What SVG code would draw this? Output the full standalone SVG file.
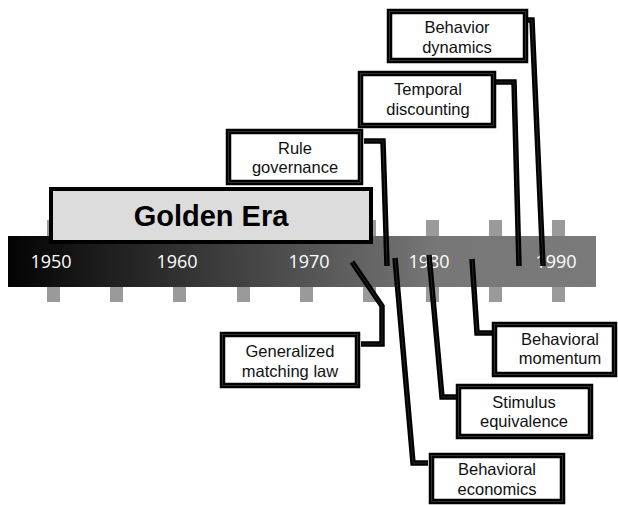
<svg xmlns="http://www.w3.org/2000/svg" width="618" height="505" viewBox="0 0 618 505">
<defs>
<linearGradient id="barGrad" gradientUnits="userSpaceOnUse" x1="8" y1="0" x2="596" y2="0">
<stop offset="0" stop-color="#030303"/>
<stop offset="0.73" stop-color="#777777"/>
<stop offset="1" stop-color="#7a7a7a"/>
</linearGradient>
<style>
.tick{fill:#9a9a9a}
.year{font-family:"Open Sans","DejaVu Sans",sans-serif;font-size:18px;fill:#ffffff;text-anchor:middle}
.box{fill:#ffffff;stroke:#000000;stroke-width:5.5}
.boxin{fill:none;stroke:#505050;stroke-width:0.6}
.lbl{font-family:"Liberation Sans",Arial,sans-serif;font-size:16.5px;fill:#111111;text-anchor:middle}
.conn{fill:none;stroke:#000000;stroke-width:5.5;stroke-linejoin:miter}
.connin{fill:none;stroke:#3c3c3c;stroke-width:0.6}
</style>
</defs>
<rect x="0" y="0" width="618" height="505" fill="#ffffff"/>
<g id="timeline">
<rect x="8" y="236" width="588" height="51" fill="url(#barGrad)"/>
<g id="ticks">
<rect class="tick" x="47" y="220" width="13" height="16"/><rect class="tick" x="47" y="287" width="13" height="15"/>
<rect class="tick" x="110" y="220" width="13" height="16"/><rect class="tick" x="110" y="287" width="13" height="15"/>
<rect class="tick" x="173" y="220" width="13" height="16"/><rect class="tick" x="173" y="287" width="13" height="15"/>
<rect class="tick" x="237" y="220" width="13" height="16"/><rect class="tick" x="237" y="287" width="13" height="15"/>
<rect class="tick" x="300" y="220" width="13" height="16"/><rect class="tick" x="300" y="287" width="13" height="15"/>
<rect class="tick" x="363" y="220" width="13" height="16"/><rect class="tick" x="363" y="287" width="13" height="15"/>
<rect class="tick" x="426" y="220" width="13" height="16"/><rect class="tick" x="426" y="287" width="13" height="15"/>
<rect class="tick" x="489" y="220" width="13" height="16"/><rect class="tick" x="489" y="287" width="13" height="15"/>
<rect class="tick" x="552" y="220" width="13" height="16"/><rect class="tick" x="552" y="287" width="13" height="15"/>
</g>
<text class="year" x="51" y="268">1950</text>
<text class="year" x="177" y="268">1960</text>
<text class="year" x="309" y="268">1970</text>
<text class="year" x="429" y="268">1980</text>
<text class="year" x="556" y="268">1990</text>
</g>
<g id="golden-era">
<rect x="51" y="189" width="320" height="53" fill="#dcdcdc" stroke="#000000" stroke-width="4"/>
<text x="211" y="226" font-family="'Liberation Sans',Arial,sans-serif" font-size="29" font-weight="bold" fill="#000000" text-anchor="middle">Golden Era</text>
</g>
<g id="connectors">
<path class="conn" d="M528,20 H532 L543,266"/>
<path class="connin" d="M528,20 H532 L543,266"/>
<path class="conn" d="M496,82 H514 L519,266"/>
<path class="connin" d="M496,82 H514 L519,266"/>
<path class="conn" d="M364,141 H383 L387,266"/>
<path class="connin" d="M364,141 H383 L387,266"/>
<path class="conn" d="M352,262 L382,306 V344 H361"/>
<path class="connin" d="M352,262 L382,306 V344 H361"/>
<path class="conn" d="M395,258 L413,463 H428"/>
<path class="connin" d="M395,258 L413,463 H428"/>
<path class="conn" d="M429,255 L442,397 H456"/>
<path class="connin" d="M429,255 L442,397 H456"/>
<path class="conn" d="M472,259 L477,333 H492"/>
<path class="connin" d="M472,259 L477,333 H492"/>
</g>
<g id="behavior-dynamics">
<rect class="box" x="389.5" y="11.5" width="136" height="49"/>
<rect class="boxin" x="389.5" y="11.5" width="136" height="49"/>
<text class="lbl" x="457" y="33">Behavior</text>
<text class="lbl" x="457" y="53">dynamics</text>
</g>
<g id="temporal-discounting">
<rect class="box" x="360.5" y="73.5" width="133" height="52"/>
<rect class="boxin" x="360.5" y="73.5" width="133" height="52"/>
<text class="lbl" x="428" y="95">Temporal</text>
<text class="lbl" x="428" y="115">discounting</text>
</g>
<g id="rule-governance">
<rect class="box" x="228.5" y="131.5" width="132" height="51"/>
<rect class="boxin" x="228.5" y="131.5" width="132" height="51"/>
<text class="lbl" x="295" y="154">Rule</text>
<text class="lbl" x="295" y="173">governance</text>
</g>
<g id="generalized-matching-law">
<rect class="box" x="222.5" y="334.5" width="135" height="51"/>
<rect class="boxin" x="222.5" y="334.5" width="135" height="51"/>
<text class="lbl" x="290" y="357">Generalized</text>
<text class="lbl" x="290" y="377">matching law</text>
</g>
<g id="behavioral-momentum">
<rect class="box" x="494.5" y="324.5" width="120" height="50"/>
<rect class="boxin" x="494.5" y="324.5" width="120" height="50"/>
<text class="lbl" x="560" y="345">Behavioral</text>
<text class="lbl" x="560" y="364">momentum</text>
</g>
<g id="stimulus-equivalence">
<rect class="box" x="458.5" y="386.5" width="132" height="50"/>
<rect class="boxin" x="458.5" y="386.5" width="132" height="50"/>
<text class="lbl" x="524" y="408">Stimulus</text>
<text class="lbl" x="524" y="427">equivalence</text>
</g>
<g id="behavioral-economics">
<rect class="box" x="431.5" y="455.5" width="131" height="46"/>
<rect class="boxin" x="431.5" y="455.5" width="131" height="46"/>
<text class="lbl" x="497" y="475">Behavioral</text>
<text class="lbl" x="497" y="495">economics</text>
</g>
</svg>
